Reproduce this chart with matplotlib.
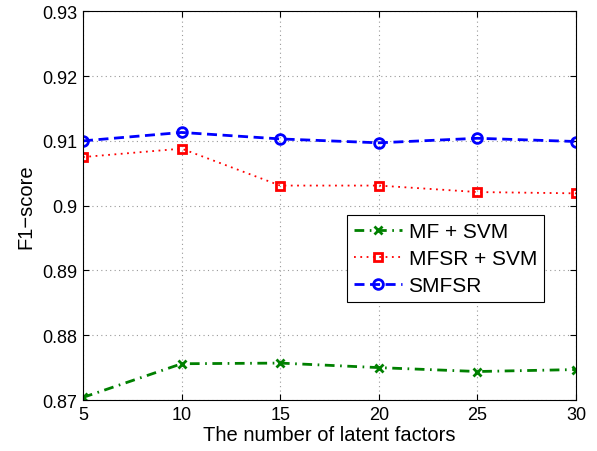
import matplotlib
matplotlib.use("Agg")
import matplotlib.pyplot as plt

factors = [5, 10, 15, 20, 25, 30]
mf_svm = [0.8704, 0.8756, 0.8757, 0.8750, 0.8744, 0.8747]
mfsr_svm = [0.9075, 0.9088, 0.9031, 0.9031, 0.9021, 0.9019]
smfsr = [0.9100, 0.9113, 0.9103, 0.9097, 0.9104, 0.9099]
yticks = [0.87, 0.88, 0.89, 0.9, 0.91, 0.92, 0.93]
ytick_labels = ["0.87", "0.88", "0.89", "0.9", "0.91", "0.92", "0.93"]

plt.rcParams['font.family'] = ['Liberation Sans', 'DejaVu Sans']
fig = plt.figure(figsize=(5.97, 4.52), dpi=100)
ax = fig.add_axes([0.139, 0.1128, 0.826, 0.86])

ax.plot(factors, mf_svm, color='#008000', linestyle='-.', linewidth=2, marker='x',
        markersize=6, markeredgewidth=2, label='MF + SVM', dashes=(3.5, 2, 0.6, 2))
ax.plot(factors, mfsr_svm, color='#ff0000', linestyle=':', linewidth=1.3, marker='s',
        markersize=6, markeredgewidth=2, markerfacecolor='none', label='MFSR + SVM',
        dashes=(1, 2.5))
ax.plot(factors, smfsr, color='#0000ff', linestyle='--', linewidth=2, marker='o',
        markersize=7, markeredgewidth=2, markerfacecolor='none', label='SMFSR',
        dashes=(3.6, 2))

ax.set_xlim(5, 30)
ax.set_ylim(0.87, 0.93)
ax.set_xticks(factors)
ax.set_yticks(yticks)
ax.set_yticklabels(ytick_labels)
ax.tick_params(direction='in', labelsize=13, top=True, right=True, length=4, pad=4)
ax.grid(True, linestyle=(0, (1, 3)), color='#999999', linewidth=0.8)
ax.set_xlabel('The number of latent factors', fontsize=14.5, labelpad=2)
ax.set_ylabel('F1\u2212score', fontsize=14.5, labelpad=5)
for s in ax.spines.values():
    s.set_linewidth(0.8)

leg = ax.legend(loc='upper left', bbox_to_anchor=(0.5355, 0.476), fontsize=15,
                fancybox=False, edgecolor='black', framealpha=1, handlelength=2.3,
                borderpad=0.35, labelspacing=0.38, handletextpad=0.3, borderaxespad=0)
leg.get_frame().set_linewidth(0.8)

fig.savefig('out.png', dpi=100)
